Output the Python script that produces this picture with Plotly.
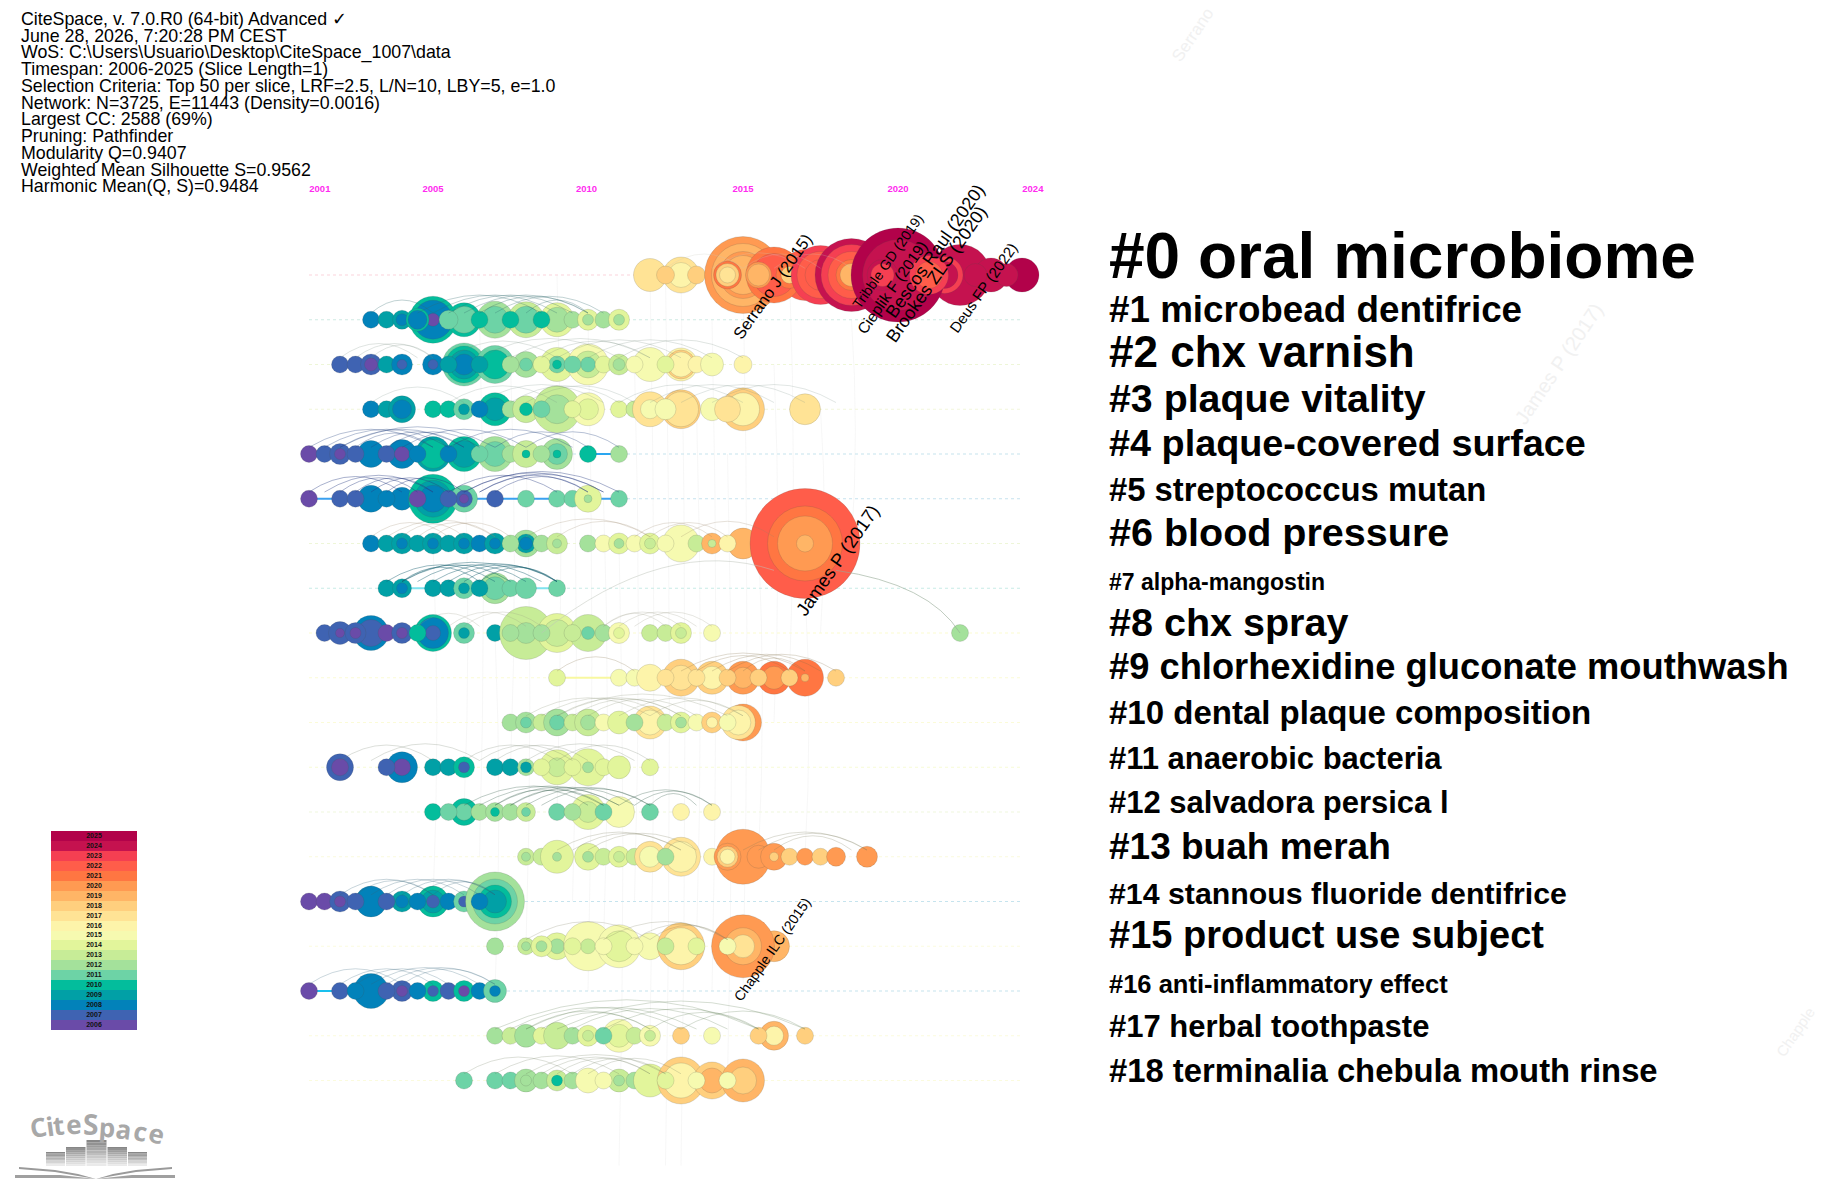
import plotly.graph_objects as go

WIDTH = 1824
HEIGHT = 1193

info_lines = [
    "CiteSpace, v. 7.0.R0 (64-bit) Advanced ✓",
    "June 28, 2026, 7:20:28 PM CEST",
    "WoS: C:\\Users\\Usuario\\Desktop\\CiteSpace_1007\\data",
    "Timespan: 2006-2025 (Slice Length=1)",
    "Selection Criteria: Top 50 per slice, LRF=2.5, L/N=10, LBY=5, e=1.0",
    "Network: N=3725, E=11443 (Density=0.0016)",
    "Largest CC: 2588 (69%)",
    "Pruning: Pathfinder",
    "Modularity Q=0.9407",
    "Weighted Mean Silhouette S=0.9562",
    "Harmonic Mean(Q, S)=0.9484",
]

tick_slots = [0.7, 8.0, 17.9, 28, 38, 46.7]
tick_text = ["2001", "2005", "2010", "2015", "2020", "2024"]

legend_years = list(range(2006, 2026))
legend_colors = [
    "#6a4ba8", "#3f63b2", "#0282ba", "#01a0a6", "#03bd9c", "#6dd3a6", "#a4e19b", "#c7ec97",
    "#e2f59b", "#f6fab0", "#fdf4aa", "#ffe395", "#ffcf7e", "#ffb566", "#ff9a52", "#ff7642",
    "#ff5d4a", "#f53f52", "#c5124f", "#b2024a",
]

cluster_names = [
    "#0 oral microbiome", "#1 microbead dentifrice", "#2 chx varnish", "#3 plaque vitality",
    "#4 plaque-covered surface", "#5 streptococcus mutan", "#6 blood pressure", "#7 alpha-mangostin",
    "#8 chx spray", "#9 chlorhexidine gluconate mouthwash", "#10 dental plaque composition",
    "#11 anaerobic bacteria", "#12 salvadora persica l", "#13 buah merah",
    "#14 stannous fluoride dentifrice", "#15 product use subject", "#16 anti-inflammatory effect",
    "#17 herbal toothpaste", "#18 terminalia chebula mouth rinse",
]
cluster_font = [64, 36.8, 44, 39.3, 37.8, 32.8, 39.5, 23, 39.5, 36.3, 33, 31, 31, 37, 30.3, 38, 25.5, 31, 32.8]

# (time slice, node size, ring year); a slice is half a year starting at 2001
nodes_0 = [
    (22, 32, 2017), (24, 35, 2017), (24, 24, 2016), (23, 17, 2018), (25, 17, 2018),
    (28, 76, 2020), (28, 62, 2019), (28, 46, 2020), (28, 38, 2019), (27, 27, 2021), (27, 22, 2018), (27, 15, 2017),
    (32, 50, 2022), (32, 36, 2021), (30, 55, 2021), (30, 42, 2022), (29, 25, 2020), (29, 21, 2019),
    (31, 26, 2021), (31, 16, 2018), (33, 58, 2023), (33, 46, 2022), (33, 30, 2022),
    (35, 72, 2024), (35, 60, 2023), (35, 46, 2022), (35, 30, 2021), (35, 22, 2019),
    (42, 60, 2024), (41, 36, 2023), (41, 26, 2024),
    (38, 93, 2025), (38, 70, 2024), (37, 30, 2024), (37, 22, 2023), (40, 38, 2023), (40, 26, 2022),
    (44, 33, 2024), (43, 22, 2024), (46, 33, 2025), (45, 22, 2024),
]
nodes_1 = [
    (4, 16, 2008), (5, 16, 2009), (6, 18, 2009), (6, 11, 2008),
    (8, 46, 2010), (8, 38, 2008), (8, 12, 2006), (7, 22, 2010), (7, 18, 2008),
    (10, 33, 2010), (10, 26, 2011), (12, 36, 2012), (12, 26, 2011), (14, 35, 2013), (14, 26, 2011),
    (16, 33, 2014), (16, 24, 2012), (9, 18, 2011), (11, 16, 2010), (13, 16, 2010), (15, 16, 2010),
    (17, 16, 2012), (18, 20, 2014), (18, 10, 2012), (19, 16, 2012), (20, 20, 2014), (20, 10, 2012),
]
nodes_2 = [
    (2, 16, 2007), (3, 16, 2007), (4, 20, 2007), (4, 12, 2006), (5, 16, 2009), (6, 20, 2008), (6, 9, 2007),
    (8, 20, 2008), (8, 9, 2007), (10, 42, 2011), (10, 36, 2010), (10, 28, 2009), (10, 20, 2008), (9, 16, 2009),
    (12, 37, 2011), (12, 28, 2010), (11, 16, 2009), (14, 25, 2012), (14, 12, 2011), (13, 16, 2012),
    (16, 33, 2014), (16, 16, 2011), (16, 8, 2010), (15, 16, 2014), (18, 40, 2015), (18, 26, 2013), (18, 14, 2011),
    (17, 16, 2011), (19, 16, 2014), (20, 20, 2013), (20, 11, 2012), (22, 33, 2015), (21, 16, 2015),
    (24, 32, 2016), (24, 28, 2018), (24, 24, 2016), (23, 16, 2014), (25, 16, 2016), (26, 22, 2015), (28, 17, 2016),
]
nodes_3 = [
    (4, 16, 2008), (5, 16, 2009), (6, 26, 2009), (6, 18, 2008), (8, 16, 2010), (9, 16, 2010),
    (10, 20, 2011), (10, 10, 2009), (12, 32, 2010), (12, 22, 2009), (11, 16, 2008), (13, 16, 2012),
    (14, 26, 2013), (14, 12, 2010), (16, 46, 2013), (16, 28, 2012), (15, 16, 2011), (18, 32, 2015), (18, 20, 2014),
    (17, 16, 2014), (20, 16, 2014), (21, 16, 2013), (22, 34, 2017), (22, 18, 2015), (24, 38, 2018), (24, 34, 2017),
    (23, 20, 2015), (26, 22, 2015), (28, 42, 2018), (28, 32, 2016), (27, 25, 2017), (32, 30, 2017),
]
nodes_4 = [
    (0, 16, 2006), (1, 16, 2007), (2, 20, 2007), (2, 10, 2006), (4, 26, 2008), (3, 16, 2007), (6, 28, 2008),
    (5, 16, 2007), (6, 14, 2006), (8, 34, 2009), (8, 28, 2010), (7, 16, 2008), (10, 34, 2010), (10, 26, 2009),
    (9, 16, 2008), (12, 34, 2012), (12, 24, 2011), (11, 16, 2011), (13, 16, 2012), (14, 26, 2013), (14, 7, 2010),
    (16, 30, 2012), (16, 20, 2011), (16, 7, 2010), (15, 16, 2012), (18, 16, 2010), (20, 16, 2012),
]
nodes_5 = [
    (0, 16, 2006), (2, 16, 2007), (4, 26, 2008), (3, 16, 2007), (6, 22, 2008), (5, 16, 2008),
    (8, 48, 2010), (8, 36, 2009), (8, 26, 2008), (7, 16, 2006), (10, 26, 2011), (10, 16, 2007), (10, 8, 2006),
    (9, 16, 2007), (12, 16, 2007), (14, 16, 2011), (16, 16, 2011), (17, 16, 2011), (18, 26, 2014), (18, 7, 2012),
    (20, 16, 2011),
]
nodes_6 = [
    (4, 16, 2008), (5, 16, 2009), (6, 20, 2009), (6, 10, 2008), (7, 16, 2009), (8, 20, 2009), (8, 10, 2008),
    (9, 16, 2009), (10, 20, 2009), (10, 10, 2008), (11, 16, 2008), (12, 20, 2009), (12, 10, 2008),
    (14, 26, 2012), (14, 18, 2009), (14, 12, 2008), (13, 16, 2012), (15, 16, 2012), (16, 20, 2013), (16, 8, 2012),
    (18, 16, 2012), (19, 16, 2015), (20, 20, 2014), (20, 9, 2012), (21, 16, 2015), (22, 20, 2014), (22, 10, 2013),
    (24, 36, 2015), (23, 16, 2015), (25, 16, 2013), (26, 20, 2019), (26, 7, 2013), (28, 30, 2019), (27, 16, 2016),
    (32, 109, 2022), (32, 74, 2021), (32, 54, 2020), (32, 16, 2019),
]
nodes_7 = [
    (5, 16, 2009), (6, 18, 2009), (6, 10, 2008), (8, 16, 2009), (9, 16, 2009), (10, 20, 2011), (10, 10, 2009),
    (12, 30, 2012), (12, 22, 2011), (11, 16, 2009), (13, 16, 2011), (14, 20, 2011), (16, 16, 2011),
]
nodes_8 = [
    (1, 16, 2007), (2, 22, 2007), (2, 8, 2006), (4, 34, 2008), (4, 26, 2007), (3, 20, 2007), (3, 10, 2006),
    (5, 16, 2006), (6, 20, 2007), (6, 10, 2006), (8, 36, 2010), (8, 30, 2008), (8, 14, 2007), (7, 16, 2010),
    (10, 20, 2011), (10, 10, 2009), (12, 16, 2009), (14, 52, 2013), (14, 20, 2012), (13, 16, 2012),
    (16, 38, 2014), (16, 26, 2013), (15, 16, 2012), (18, 36, 2013), (18, 12, 2011), (17, 16, 2013),
    (19, 16, 2012), (20, 20, 2015), (20, 10, 2014), (22, 16, 2013), (23, 16, 2013), (24, 20, 2014), (24, 10, 2013),
    (26, 16, 2015), (42, 16, 2012),
]
nodes_9 = [
    (16, 16, 2014), (20, 16, 2015), (21, 16, 2015), (22, 26, 2016), (24, 36, 2018), (24, 24, 2017), (23, 16, 2017),
    (26, 32, 2018), (26, 22, 2016), (25, 16, 2017), (28, 32, 2020), (28, 20, 2019), (27, 16, 2018),
    (30, 32, 2021), (30, 22, 2020), (29, 16, 2018), (32, 36, 2021), (32, 7, 2019), (31, 16, 2018), (34, 16, 2018),
]
nodes_10 = [
    (13, 16, 2012), (14, 20, 2012), (14, 10, 2011), (15, 16, 2013), (16, 26, 2012), (16, 14, 2011), (17, 16, 2013),
    (18, 26, 2013), (18, 14, 2012), (19, 16, 2015), (20, 22, 2014), (22, 32, 2017), (22, 24, 2016), (21, 16, 2012),
    (23, 16, 2013), (24, 20, 2014), (24, 10, 2012), (25, 16, 2015), (26, 20, 2018), (26, 10, 2016),
    (28, 36, 2020), (27.7, 33, 2017), (27.7, 24, 2016), (27, 16, 2015),
]
nodes_11 = [
    (2, 26, 2007), (2, 16, 2006), (6, 30, 2008), (6, 16, 2006), (5, 16, 2007), (8, 16, 2009), (9, 16, 2009),
    (10, 20, 2010), (10, 10, 2007), (12, 16, 2009), (13, 16, 2009), (14, 16, 2012), (14, 10, 2009),
    (16, 34, 2014), (16, 18, 2013), (15, 16, 2014), (18, 36, 2014), (18, 10, 2012), (17, 16, 2014), (19, 16, 2014),
    (20, 22, 2014), (22, 16, 2014),
]
nodes_12 = [
    (8, 16, 2010), (10, 26, 2010), (10, 16, 2011), (9, 16, 2011), (11, 16, 2012), (12, 18, 2012), (12, 8, 2010),
    (13, 16, 2012), (14, 18, 2013), (14, 8, 2011), (16, 16, 2011), (18, 34, 2014), (18, 20, 2013), (17, 16, 2012),
    (20, 30, 2015), (19, 16, 2011), (22, 16, 2011), (24, 16, 2016), (26, 16, 2016),
]
nodes_13 = [
    (14, 16, 2013), (14, 8, 2012), (15, 16, 2013), (16, 32, 2014), (16, 8, 2012), (18, 26, 2014), (18, 10, 2012),
    (19, 16, 2013), (20, 20, 2014), (20, 10, 2013), (21, 16, 2013), (22, 30, 2017), (22, 20, 2015),
    (24, 38, 2017), (24, 30, 2016), (23, 16, 2012), (26, 16, 2016), (28, 54, 2020), (27, 26, 2020), (27, 20, 2018),
    (27, 14, 2016), (29, 22, 2020), (30, 26, 2020), (30, 8, 2018), (31, 16, 2018), (32, 16, 2020), (33, 16, 2018),
    (34, 18, 2020), (36, 20, 2020),
]
nodes_14 = [
    (0, 16, 2006), (1, 16, 2006), (2, 20, 2007), (2, 10, 2006), (4, 30, 2008), (3, 16, 2007), (6, 20, 2009),
    (6, 12, 2008), (5, 16, 2007), (8, 30, 2010), (8, 22, 2009), (8, 12, 2007), (7, 16, 2008), (9, 16, 2008),
    (10, 20, 2011), (10, 10, 2007), (12, 58, 2012), (12, 44, 2011), (12, 32, 2010), (12, 22, 2009), (11, 16, 2008),
]
nodes_15 = [
    (12, 16, 2012), (14, 16, 2013), (14, 8, 2012), (16, 26, 2014), (16, 14, 2012), (15, 20, 2014), (15, 10, 2012),
    (18, 48, 2015), (18, 14, 2013), (17, 16, 2014), (20, 42, 2015), (20, 30, 2014), (19, 16, 2015),
    (22, 26, 2015), (21, 16, 2015), (24, 46, 2018), (24, 36, 2016), (23, 16, 2013), (25, 16, 2014),
    (30, 30, 2019), (28, 62, 2020), (28, 36, 2019), (28, 22, 2017), (27, 16, 2015),
]
nodes_16 = [
    (0, 16, 2006), (2, 16, 2007), (4, 34, 2008), (3, 16, 2008), (6, 20, 2007), (6, 10, 2006), (5, 16, 2007),
    (8, 20, 2010), (8, 10, 2007), (7, 16, 2008), (9, 16, 2007), (10, 20, 2010), (10, 10, 2006), (11, 16, 2008),
    (12, 22, 2011), (12, 10, 2008),
]
nodes_17 = [
    (12, 16, 2012), (13, 16, 2013), (14, 22, 2012), (15, 16, 2014), (16, 26, 2013), (17, 16, 2012),
    (18, 20, 2014), (18, 10, 2013), (20, 32, 2015), (20, 22, 2014), (19, 16, 2011), (21, 16, 2013),
    (22, 20, 2015), (22, 10, 2013), (24, 16, 2018), (26, 16, 2015), (30, 28, 2019), (30, 18, 2016), (29, 16, 2018),
    (32, 16, 2018),
]
nodes_18 = [
    (10, 16, 2011), (12, 16, 2011), (13, 16, 2011), (14, 22, 2012), (14, 10, 2012), (15, 16, 2012), (16, 20, 2013),
    (16, 10, 2010), (17, 16, 2012), (18, 24, 2015), (20, 22, 2013), (20, 10, 2012), (19, 16, 2015), (21, 16, 2012),
    (22, 32, 2014), (24, 46, 2018), (24, 34, 2016), (23, 16, 2014), (26, 36, 2018), (26, 24, 2019), (25, 16, 2015),
    (28, 42, 2019), (28, 26, 2018), (27, 16, 2015),
]
rows = [
    nodes_0, nodes_1, nodes_2, nodes_3, nodes_4, nodes_5, nodes_6, nodes_7, nodes_8, nodes_9,
    nodes_10, nodes_11, nodes_12, nodes_13, nodes_14, nodes_15, nodes_16, nodes_17, nodes_18,
]

row_line_colors = [
    "#fbd3dc", "#cfeae4", "#eef6d8", "#f2f6dc", "#c6e4ee", "#c6e2ee", "#eef6d8", "#c8ece6", "#fbfbd0", "#fbfbd5",
    "#fbfbd8", "#f8fbd5", "#f0f7dd", "#fafadd", "#c6e4ee", "#fbfbe0", "#c6e4ee", "#fbfbdd", "#fbfbdd",
]

# brighter stretches of a row line: row, first slice, last slice, colour
strong_row = [4, 5, 7, 9, 16, 3]
strong_from = [18, 0, 5, 16, 0, 24]
strong_to = [20, 20, 16, 20, 2, 28]
strong_color = ["#2aa6f0", "#3aa0f0", "#7fe3ef", "#f8f8a0", "#19c0ee", "#f6f6c0"]

# arcs inside a row: first slice, last slice
arcs_0 = [(23, 28), (26, 32), (28, 33), (30, 35)]
arcs_1 = [(4, 8), (7, 15), (9, 17), (10, 18), (11, 18), (12, 19), (14, 18), (8, 16)]
arcs_2 = [(2, 7), (3, 8), (4, 8), (9, 16), (11, 20), (13, 22), (15, 22), (18, 26), (20, 28), (16, 24)]
arcs_3 = [(4, 10), (9, 16), (11, 19), (13, 20), (14, 21), (20, 28), (24, 32), (26, 34), (22, 30)]
arcs_4 = [(0, 8), (1, 9), (2, 10), (3, 8), (4, 10), (5, 11), (2, 12), (6, 14), (9, 17), (12, 18), (14, 20)]
arcs_5 = [(0, 6), (1, 8), (2, 7), (3, 8), (4, 9), (5, 10), (10, 19), (10, 20), (11, 18), (11, 19), (12, 18), (9, 16)]
arcs_6 = [(4, 9), (5, 12), (6, 10), (7, 12), (8, 13), (14, 22), (16, 22), (21, 26), (22, 27), (24, 30)]
arcs_7 = [(5, 12), (6, 13), (6, 15), (7, 14), (8, 16), (9, 16), (10, 16), (6, 11), (11, 16)]
arcs_8 = [(7, 11), (10, 15), (9, 14), (19, 24), (20, 25), (19, 23), (21, 26)]
arcs_9 = [(16, 21), (24, 32), (26, 33), (25, 31), (27, 34), (28, 32)]
arcs_10 = [(14, 22), (16, 24), (17, 24), (18, 25), (15, 23), (20, 28), (22, 28), (16, 27)]
arcs_11 = [(2, 8), (4, 11), (10, 16), (11, 17), (12, 18), (14, 21), (16, 22)]
arcs_12 = [(10, 19), (11, 20), (12, 20), (13, 21), (14, 22), (13, 19), (15, 22), (12, 18), (20, 26), (21, 26), (22, 25)]
arcs_13 = [(16, 24), (17, 24), (18, 25), (28, 36), (29, 36), (30, 35)]
arcs_14 = [(2, 8), (3, 8), (4, 10), (5, 11), (6, 12), (7, 12), (8, 12)]
arcs_15 = [(14, 22), (19, 27), (21, 27), (22, 27)]
arcs_16 = [(0, 6), (2, 8), (4, 11), (5, 12), (6, 12), (3, 9)]
arcs_17 = [(13, 24), (14, 22), (15, 22), (14, 25), (17, 27), (19, 29), (12, 29), (16, 32), (22, 29), (24, 32)]
arcs_18 = [(10, 17), (12, 20), (14, 23), (15, 22), (16, 22), (17, 23), (18, 24)]
row_arcs = [
    arcs_0, arcs_1, arcs_2, arcs_3, arcs_4, arcs_5, arcs_6, arcs_7, arcs_8, arcs_9,
    arcs_10, arcs_11, arcs_12, arcs_13, arcs_14, arcs_15, arcs_16, arcs_17, arcs_18,
]
arc_colors = [
    "rgba(200,200,190,.3)", "rgba(50,105,110,.38)", "rgba(110,130,120,.28)", "rgba(120,140,130,.28)",
    "rgba(40,70,130,.42)", "rgba(40,60,130,.5)", "rgba(150,130,100,.3)", "rgba(20,95,110,.55)",
    "rgba(150,150,130,.3)", "rgba(130,110,70,.32)", "rgba(130,140,110,.3)", "rgba(110,120,100,.3)",
    "rgba(60,100,80,.42)", "rgba(120,120,90,.32)", "rgba(50,100,120,.35)", "rgba(120,120,90,.3)",
    "rgba(50,100,120,.32)", "rgba(90,120,80,.32)", "rgba(110,120,90,.3)",
]

# faint links between rows: slice, first row, last row
link_slice = [11, 13, 14, 16, 17, 18, 19, 20, 21, 22, 23, 24, 25, 26, 27, 28, 29, 30, 31, 32, 8, 10, 12, 33, 35]
link_top = [1, 2, 4, 0, 3, 1, 5, 6, 2, 0, 0, 0, 3, 1, 4, 0, 6, 2, 0, 7, 6, 4, 8, 3, 1]
link_bottom = [13, 11, 15, 12, 14, 16, 15, 19.9, 14, 17, 19.9, 19.9, 15, 16, 18, 16, 13, 10, 9, 13, 14, 12, 16, 8, 6]

node_labels = ["Serrano J (2015)", "Tribble GD (2019)", "Cieplik F (2019)", "Bescos Raul (2020)",
               "Brookes ZLS (2020)", "Deus FP (2022)", "James P (2017)", "Chapple ILC (2015)"]
label_slice = [29.9, 37.35, 37.6, 40.4, 40.5, 43.5, 34.1, 29.9]
label_row = [0.24, -0.31, 0.27, -0.54, -0.02, 0.27, 6.39, 15.06]
label_font = [16.5, 14, 15.5, 18, 18, 15, 18.5, 14]

ghost_labels = ["Serrano", "James P (2017)", "Chapple"]
ghost_slice = [57, 80.6, 95.9]
ghost_row = [-5.35, 1.98, 16.9]
ghost_font = [17, 20, 15]

logo_letters = list("CiteSpace")
logo_left = [38, 50, 58.5, 73, 90, 107, 124, 140, 156]
logo_top = [1127, 1126, 1125, 1124, 1124, 1127, 1129, 1131, 1133]
logo_angle = [-10, -8, -6, -4, 0, 4, 7, 10, 13]
logo_bar_left = [46, 66, 86.5, 107.5, 128]
logo_bar_right = [65, 85.5, 106.5, 127, 147]
logo_bar_top = [1152, 1147, 1140, 1147, 1152]

color_of = dict(zip(legend_years, legend_colors))


def px_x(v):
    return v / WIDTH


def px_y(v):
    return 1 - v / HEIGHT


fig = go.Figure()

# row lines
for i, c in enumerate(row_line_colors):
    fig.add_trace(go.Scatter(x=[0, 46], y=[i, i], mode="lines", line=dict(color=c, width=1.2, dash="dot"),
                             hoverinfo="skip", showlegend=False))
for r, a, b, c in zip(strong_row, strong_from, strong_to, strong_color):
    fig.add_trace(go.Scatter(x=[a, b], y=[r, r], mode="lines", line=dict(color=c, width=2),
                             hoverinfo="skip", showlegend=False))

shapes = []
for s, t, b in zip(link_slice, link_top, link_bottom):
    shapes.append(dict(type="path", xref="x", yref="y", layer="below",
                       path=f"M {s},{t} Q {s + 0.5},{(t + b) / 2} {s},{b}",
                       line=dict(color="rgba(170,170,170,.09)", width=1)))

# arcs, peak height grows with the span
for i, arcs in enumerate(row_arcs):
    for a, b in arcs:
        peak = (8 + 1.25 * (b - a)) / 44.75
        y0 = i - 0.15
        shapes.append(dict(type="path", xref="x", yref="y",
                           path=f"M {a},{y0} Q {(a + b) / 2},{y0 - 2 * peak} {b},{y0}",
                           line=dict(color=arc_colors[i], width=0.8)))
# links leaving the James P node
shapes.append(dict(type="path", xref="x", yref="y", path="M 15,8 Q 23,5.8 30,6.6",
                   line=dict(color="rgba(190,195,185,.5)", width=1)))
shapes.append(dict(type="path", xref="x", yref="y", path="M 34,6.6 Q 40,6.9 42,8",
                   line=dict(color="rgba(150,170,150,.6)", width=1)))

# nodes with their year rings
for i, nodes in enumerate(rows):
    fig.add_trace(go.Scatter(
        x=[n[0] for n in nodes], y=[i] * len(nodes), mode="markers", cliponaxis=False,
        marker=dict(size=[n[1] + 1 for n in nodes], color=[color_of[n[2]] for n in nodes], opacity=1,
                    line=dict(color="rgba(70,80,70,.28)", width=0.6)),
        hoverinfo="skip", showlegend=False))

# year legend
fig.add_trace(go.Heatmap(
    z=[[y] for y in legend_years], x=[0], y=legend_years, xaxis="x2", yaxis="y2",
    colorscale=[[k / 20, c] for k, c in enumerate(legend_colors) for k in (k, k + 1)],
    zmin=2005.5, zmax=2025.5, showscale=False, hoverinfo="skip",
    text=[[str(y)] for y in legend_years], texttemplate="<b>%{text}</b>",
    textfont=dict(size=7, color="#111", family="Liberation Sans")))

annotations = []
for i, line in enumerate(info_lines):
    annotations.append(dict(text=line, xref="paper", yref="paper", x=px_x(18.5), y=px_y(19.3 + 16.7 * i),
                            xanchor="left", yanchor="middle", showarrow=False,
                            font=dict(size=17.8, color="#000", family="Liberation Sans")))

for i, (name, size) in enumerate(zip(cluster_names, cluster_font)):
    annotations.append(dict(text=f"<b>{name}</b>", xref="paper", yref="y", x=px_x(1106.5), y=i,
                            xanchor="left", yanchor="bottom", yshift=-size * 0.26 - 2.3, showarrow=False,
                            font=dict(size=size, color="#000", family="Liberation Sans")))

for name, s, r, size in zip(node_labels, label_slice, label_row, label_font):
    annotations.append(dict(text=name, x=s, y=r, textangle=-55, showarrow=False,
                            font=dict(size=size, color="#000", family="Liberation Sans")))

for name, s, r, size in zip(ghost_labels, ghost_slice, ghost_row, ghost_font):
    annotations.append(dict(text=name, x=s, y=r, textangle=-56, showarrow=False,
                            font=dict(size=size, color="#f1f1f1", family="Liberation Sans")))

# logo
for ch, x, y, ang in zip(logo_letters, logo_left, logo_top, logo_angle):
    annotations.append(dict(text=f"<b>{ch}</b>", xref="paper", yref="paper", x=px_x(x), y=px_y(y),
                            xanchor="center", yanchor="middle", textangle=ang, showarrow=False,
                            font=dict(size=28 if ch == "S" else 26, color="#a8a8a8", family="Open Sans")))

for left, right, top in zip(logo_bar_left, logo_bar_right, logo_bar_top):
    strips = 10
    step = (1166 - top) / strips
    for k in range(strips):
        g = 135 + k * 11
        shapes.append(dict(type="rect", xref="paper", yref="paper", x0=px_x(left), x1=px_x(right),
                           y0=px_y(top + k * step), y1=px_y(top + (k + 1) * step),
                           fillcolor=f"rgb({g},{g},{g})", line=dict(width=0)))


def book(points):
    return "M " + " L ".join(f"{px_x(x)},{px_y(y)}" for x, y in points) + " Z"


shapes.append(dict(type="path", xref="paper", yref="paper", fillcolor="#9a9a9a", line=dict(width=0),
                   path=book([(19, 1167), (55, 1170), (78, 1174), (96, 1179), (78, 1176), (55, 1172), (19, 1169)])))
shapes.append(dict(type="path", xref="paper", yref="paper", fillcolor="#9a9a9a", line=dict(width=0),
                   path=book([(172, 1167), (136, 1170), (113, 1174), (96, 1179), (113, 1176), (136, 1172), (172, 1169)])))
shapes.append(dict(type="path", xref="paper", yref="paper", fillcolor="#a0a0a0", line=dict(width=0),
                   path=book([(15, 1175), (60, 1175), (96, 1179), (60, 1178), (15, 1178)])))
shapes.append(dict(type="path", xref="paper", yref="paper", fillcolor="#a0a0a0", line=dict(width=0),
                   path=book([(175, 1175), (132, 1175), (96, 1179), (132, 1178), (175, 1178)])))

fig.update_layout(
    width=WIDTH, height=HEIGHT, margin=dict(l=0, r=0, t=0, b=0),
    paper_bgcolor="white", plot_bgcolor="white", showlegend=False,
    shapes=shapes, annotations=annotations,
    xaxis=dict(range=[-19.935, 97.74], domain=[0, 1], side="top", anchor="free", position=px_y(194),
               tickmode="array", tickvals=tick_slots, ticktext=tick_text, ticks="",
               tickfont=dict(size=9.5, color="#ff2bf0", family="Liberation Sans", weight="bold"),
               showgrid=False, zeroline=False, showline=False),
    yaxis=dict(range=[20.514, -6.145], domain=[0, 1], visible=False),
    xaxis2=dict(domain=[px_x(51), px_x(137)], anchor="y2", visible=False),
    yaxis2=dict(domain=[px_y(1030), px_y(831)], anchor="x2", visible=False, type="linear"),
)

fig.write_html("out.html", config=dict(displayModeBar=False),
               post_script="document.body.style.margin='0';")
